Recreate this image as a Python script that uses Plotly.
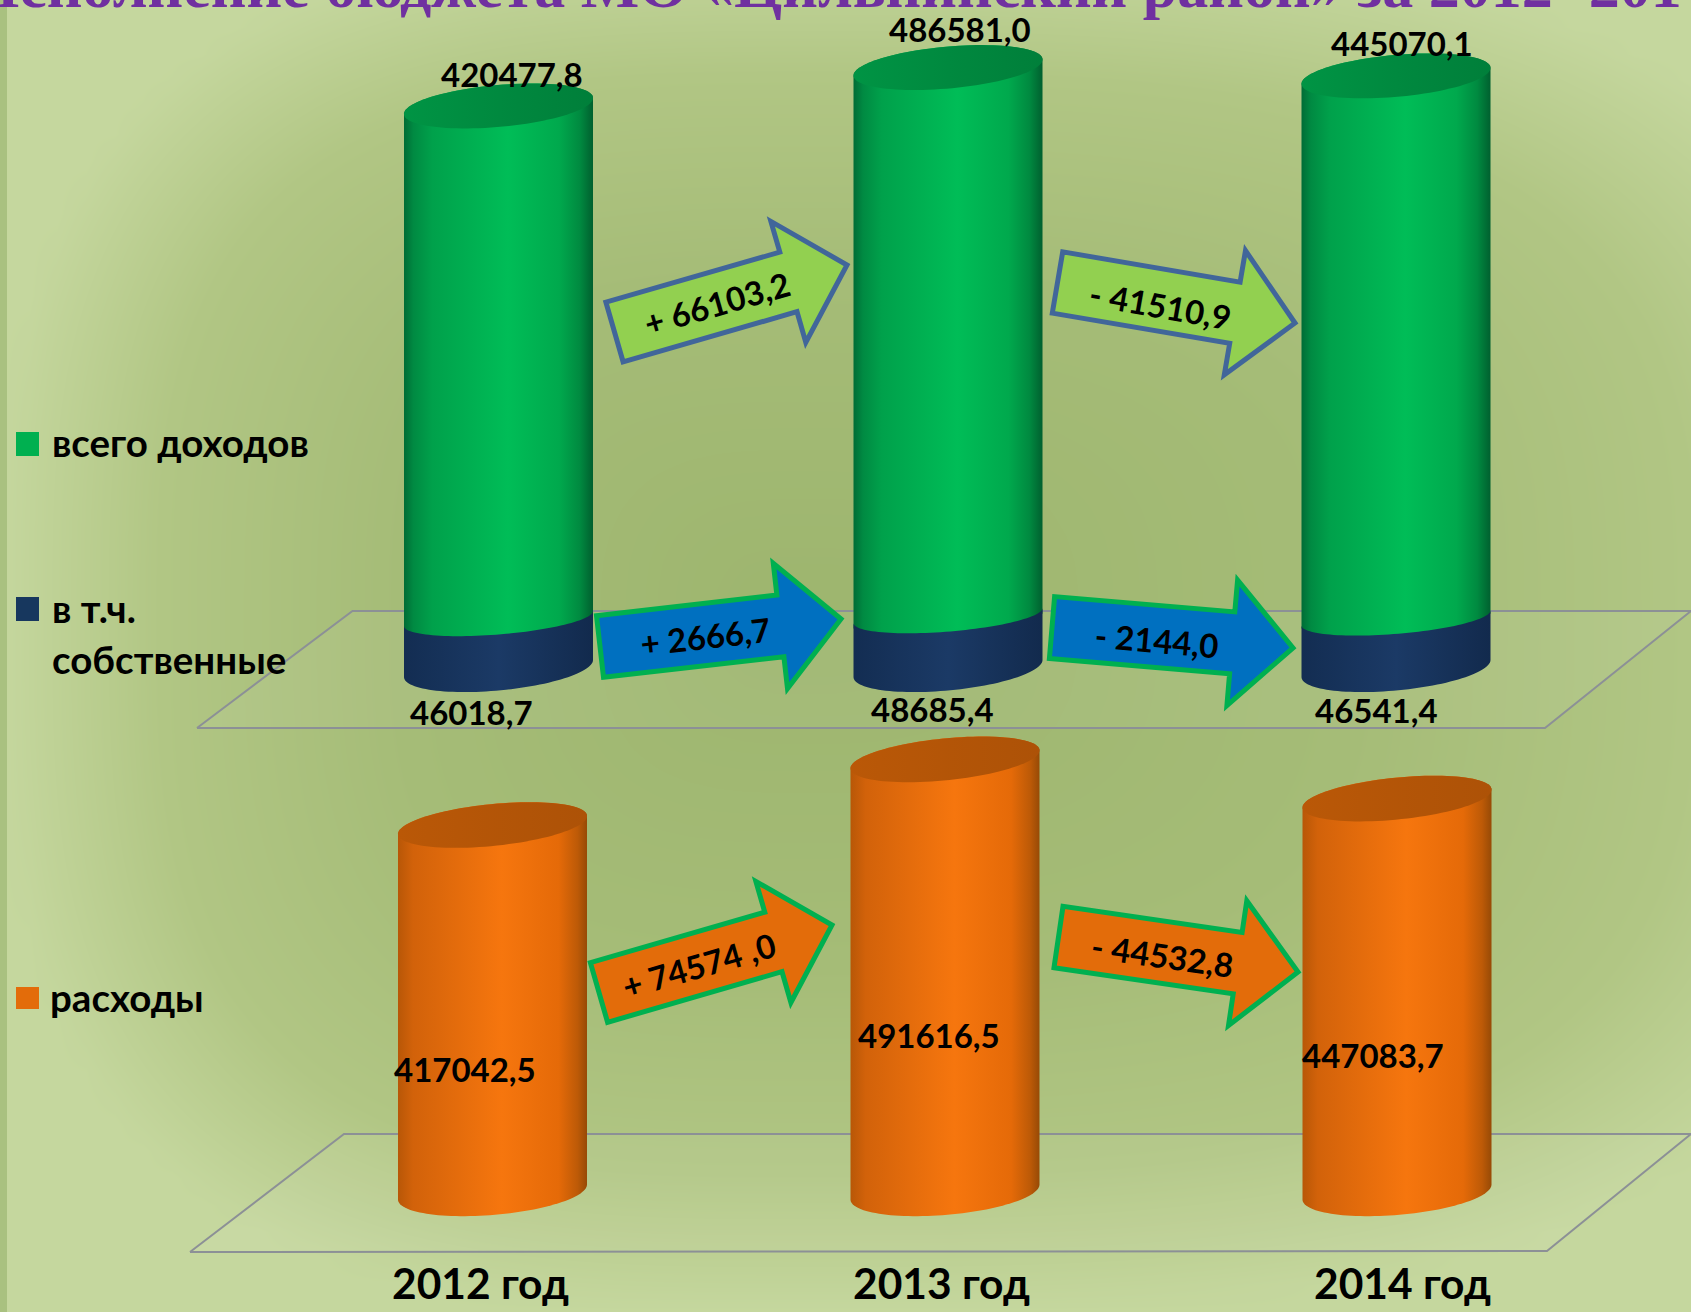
import numpy as np
import plotly.graph_objects as go

# ---------- data ----------
years = ["2012 год", "2013 год", "2014 год"]
income_labels = ["420477,8", "486581,0", "445070,1"]
income_values = [420477.8, 486581.0, 445070.1]
# The 2013 income cylinder is drawn shorter than its label says; height
income_drawn = [420477.8, 451900.0, 445070.1]
own_labels = ["46018,7", "48685,4", "46541,4"]
own_values = [46018.7, 48685.4, 46541.4]
expense_labels = ["417042,5", "491616,5", "447083,7"]
expense_values = [417042.5, 491616.5, 447083.7]
income_deltas = ["+ 66103,2", "- 41510,9"]
own_deltas = ["+ 2666,7", "- 2144,0"]
expense_deltas = ["+ 74574 ,0", "- 44532,8"]
legend_names = ["всего доходов", "в т.ч.", "собственные", "расходы"]
title_text = "Исполнение бюджета МО «Цильнинский район» за 2012- 2014"

# ---------- layout constants ----------
W, H = 1691, 1312
FONT = "Lato"
GREEN_CX = [498.5, 948, 1396]
NAVY_CX = GREEN_CX
ORANGE_CX = [492.5, 945, 1397]
HALF = 94.5

# (base pixel, pixels per unit) for each overlaid value axis
ORANGE_AX = (1192.0, 8.8e-4)
GREEN_AX = (620.0, 1.2225e-3)
NAVY_AX = (668.5, 1.0866e-3)


def ax_range(ax):
    base, k = ax
    return [(base - H) / k, base / k]


def cap_arc(cx, v, ax, a, s, b, t0, t1, n=60):
    """Sheared-ellipse arc around value v; returned in axis units."""
    k = ax[1]
    t = np.linspace(t0, t1, n)
    x = cx + a * np.cos(t)
    dy_px = -s * np.cos(t) + b * np.sin(t)
    return x, v - dy_px / k


GREEN_SCALE = [[0, "#006c36"], [0.05, "#008a42"], [0.15, "#00a14b"], [0.55, "#00bd57"],
               [0.82, "#00a94d"], [0.93, "#008a40"], [1, "#00602f"]]
GREEN_TOP = [[0, "#009444"], [0.6, "#00873e"], [1, "#007f3a"]]
NAVY_SCALE = [[0, "#132d52"], [0.5, "#1b3a66"], [1, "#122a4d"]]
ORANGE_SCALE = [[0, "#b85707"], [0.08, "#d2620a"], [0.55, "#f6760e"], [0.85, "#e56a08"],
                [0.95, "#bd5a07"], [1, "#974a06"]]
ORANGE_TOP = [[0, "#ba5807"], [1, "#ad5207"]]

fig = go.Figure()

# ---------- background ----------
gx = np.linspace(0, W, 60)
gy = np.linspace(0, H, 50)
cx0, cy0 = 800.0, 620.0
X, Y = np.meshgrid(gx, gy)
U = np.where(X < cx0, (cx0 - X) / cx0, (X - cx0) / ((W - cx0) * 1.25))
V = np.where(Y < cy0, (cy0 - Y) / (cy0 * 1.1), (Y - cy0) / (H - cy0))
D = np.clip((U ** 3 + V ** 3) ** (1 / 3), 0, 1)
fig.add_trace(go.Heatmap(x=gx, y=gy, z=D, zmin=0, zmax=1, zsmooth="best", showscale=False,
                         hoverinfo="skip", yaxis="y",
                         colorscale=[[0, "#9db56e"], [0.5, "#a5bc77"], [0.8, "#b1c684"], [1, "#c5d79e"]]))

# ---------- floors ----------
floors = [([197, 352.5, 1691, 1545, 197], [728, 611, 611, 728, 728]),
          ([190, 344, 1691, 1547, 190], [1252, 1134, 1134, 1251, 1252])]
for fx, fy in floors:
    fig.add_trace(go.Scatter(x=fx, y=fy, mode="lines", fill="toself", yaxis="y",
                             fillcolor="rgba(255,255,255,0.06)",
                             line=dict(color="#8c9096", width=2), hoverinfo="skip", showlegend=False))


def add_poly(x, y, scale, yaxis):
    fig.add_trace(go.Scatter(x=x, y=y, mode="none", fill="toself", yaxis=yaxis,
                             fillgradient=dict(type="horizontal", colorscale=scale),
                             hoverinfo="skip", showlegend=False))


def cylinder(cx, bottom_v, top_v, ax, yaxis, scale, top_scale, bot=(7.5, 22), top=(8, 21)):
    # body: bottom front arc (left -> right) + top back arc (right -> left)
    xb, yb = cap_arc(cx, bottom_v, ax, HALF, bot[0], bot[1], np.pi, 0)
    xt, yt = cap_arc(cx, top_v, ax, HALF, top[0], top[1], 0, -np.pi)
    add_poly(np.r_[xb, xt, xb[0]], np.r_[yb, yt, yb[0]], scale, yaxis)
    if top_scale:
        xe, ye = cap_arc(cx, top_v, ax, HALF, top[0], top[1], 0, 2 * np.pi, 100)
        add_poly(xe, ye, top_scale, yaxis)


for cx, v in zip(ORANGE_CX, expense_values):
    cylinder(cx, 0, v, ORANGE_AX, "y2", ORANGE_SCALE, ORANGE_TOP, bot=(7.5, 23), top=(9, 21))
for cx, v in zip(GREEN_CX, income_drawn):
    cylinder(cx, 0, v, GREEN_AX, "y3", GREEN_SCALE, GREEN_TOP, bot=(7.5, 16), top=(8, 21))
for cx, v in zip(NAVY_CX, own_values):
    xb, yb = cap_arc(cx, 0, NAVY_AX, HALF, 8.5, 22, np.pi, 0)
    xt, yt = cap_arc(cx, v, NAVY_AX, HALF, 7.5, 16, 0, np.pi)
    add_poly(np.r_[xb, xt, xb[0]], np.r_[yb, yt, yb[0]], NAVY_SCALE, "y4")


# ---------- arrows ----------
def arrow(tail, tip, fill, stroke, hw=31.0, HW=63.0, hl=61.0):
    t, p = np.array(tail, float), np.array(tip, float)
    u = (p - t) / np.linalg.norm(p - t)
    n = np.array([-u[1], u[0]])
    neck = p - u * hl
    pts = [t + n * hw, neck + n * hw, neck + n * HW, p, neck - n * HW, neck - n * hw, t - n * hw]
    path = "M " + " L ".join(f"{a:.1f},{b:.1f}" for a, b in pts) + " Z"
    return dict(type="path", path=path, xref="x", yref="y", fillcolor=fill,
                line=dict(color=stroke, width=5), layer="above")


LIME, BLUE, ORANGE = "#92d050", "#0070c0", "#e36c0a"
SLATE, GRN = "#41669a", "#00b050"
arrow_specs = [
    ((614.5, 332), (847, 265), LIME, SLATE, income_deltas[0], (717, 303), -16),
    ((1057.5, 282.5), (1295, 323), LIME, SLATE, income_deltas[1], (1160, 305), 10),
    ((600, 646.5), (841, 619), BLUE, GRN, own_deltas[0], (705, 636), -6.5),
    ((1052, 627.5), (1293, 648), BLUE, GRN, own_deltas[1], (1157, 640), 5),
    ((599, 992.5), (832, 925), ORANGE, GRN, expense_deltas[0], (699, 965), -16),
    ((1058.5, 937), (1298, 972), ORANGE, GRN, expense_deltas[1], (1162, 955), 8),
]
shapes = [dict(type="rect", xref="x", yref="y", x0=0, x1=7, y0=0, y1=H, layer="above",
               fillcolor="#a9c180", line=dict(width=0))]
annotations = []


def note(text, x, y, size=32, angle=0, anchor="center", weight="bold", color="#000000", family=FONT, yanchor="middle"):
    annotations.append(dict(text=text, x=x / W, y=1 - y / H, xref="paper", yref="paper", showarrow=False,
                            xanchor=anchor, yanchor=yanchor, textangle=angle,
                            font=dict(family=family, size=size, color=color, weight=weight)))


for tail, tip, fill, stroke, text, pos, ang in arrow_specs:
    shapes.append(arrow(tail, tip, fill, stroke))
    note(text, pos[0], pos[1], size=33, angle=ang)

# ---------- value labels ----------
for lab, p in zip(income_labels, [(512, 74), (960, 29), (1402, 43)]):
    note(lab, p[0], p[1], size=33)
for lab, p in zip(own_labels, [(472, 712), (932, 709), (1376, 710)]):
    note(lab, p[0], p[1], size=33)
for lab, p in zip(expense_labels, [(465, 1069), (929, 1035), (1373, 1055)]):
    note(lab, p[0], p[1], size=33)
for lab, x in zip(years, [480, 941, 1402]):
    note(lab, x, 1282, size=42.5)

# ---------- legend ----------
swatches = [(432, 456, "#00b050"), (597, 621, "#17375e"), (987, 1009, "#e36c0a")]
for y0, y1, c in swatches:
    shapes.append(dict(type="rect", xref="x", yref="y", x0=16, x1=39, y0=y0, y1=y1, fillcolor=c,
                       line=dict(width=0), layer="above"))
for name, y, x in zip(legend_names, [442, 608, 659, 997], [50, 50, 50, 48]):
    note(name, x, y, size=38.5, anchor="left")

# ---------- title (cut off by the top edge) ----------
note(title_text, -31, 22, size=62, anchor="left", color="#7030a0", family="Liberation Serif", yanchor="bottom")

hidden = dict(visible=False, showgrid=False, zeroline=False, fixedrange=True)
fig.update_layout(
    width=W, height=H, margin=dict(l=0, r=0, t=0, b=0), showlegend=False,
    paper_bgcolor="#b5c98a", plot_bgcolor="rgba(0,0,0,0)",
    xaxis=dict(range=[0, W], domain=[0, 1], **hidden),
    yaxis=dict(range=[H, 0], domain=[0, 1], **hidden),
    yaxis2=dict(range=ax_range(ORANGE_AX), overlaying="y", **hidden),
    yaxis3=dict(range=ax_range(GREEN_AX), overlaying="y", **hidden),
    yaxis4=dict(range=ax_range(NAVY_AX), overlaying="y", **hidden),
    shapes=shapes, annotations=annotations,
)
fig.write_html("out.html", config={"displayModeBar": False},
               post_script="document.body.style.margin='0';document.body.style.overflow='hidden';")
